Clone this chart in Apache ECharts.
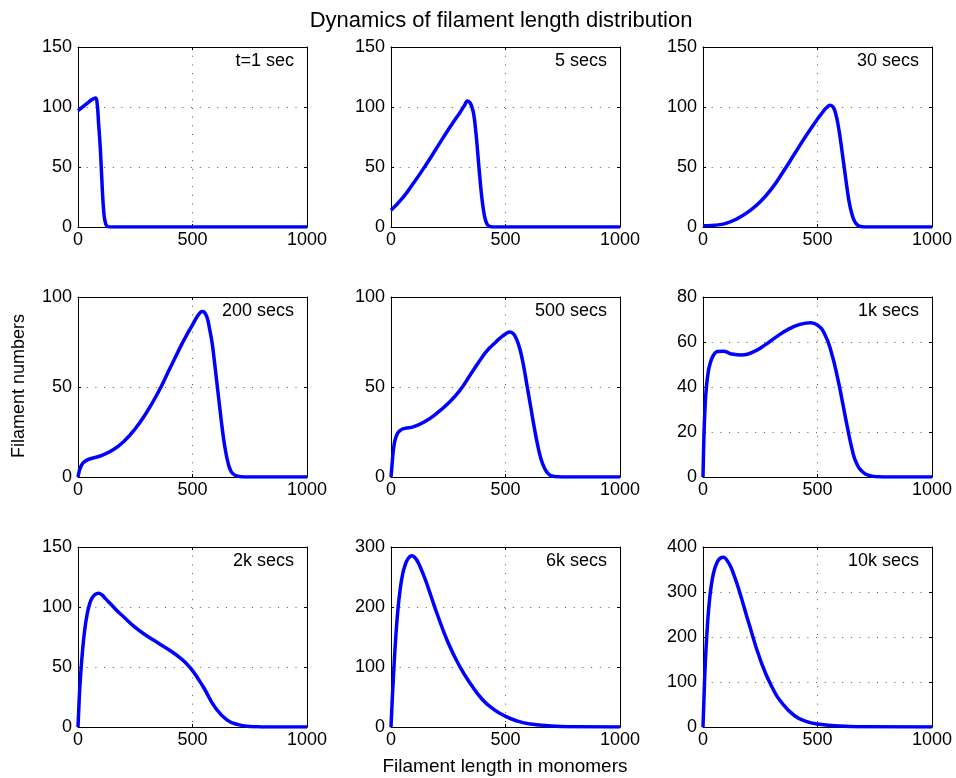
<!DOCTYPE html>
<html>
<head>
<meta charset="utf-8">
<script src="https://cdn.jsdelivr.net/npm/echarts@6/dist/echarts.min.js"></script>
<style>
  html, body { margin: 0; padding: 0; background: #fff; }
  #chart { width: 956px; height: 778px; }
</style>
</head>
<body>
<div id="chart"></div>
<script>
// Filament length distribution at successive times: [length in monomers, filament count]
const dist1s = [[0,97],[20,100],[40,103],[60,106],[76,107.5],[83,104],[90,86],[97,67],[103,44],[109,22],[115,8],[120,3.5],[124,1.4],[134,0.1],[145,0],[1000,0]];
const dist5s = [[0,14],[50,24],[100,37],[150,51],[200,66],[250,81],[280,89.5],[300,95],[320,101],[335,105],[345,103.5],[355,99],[362,93],[369,82],[376,68],[383,52],[390,37],[397,24],[404,14],[411,7],[418,3],[426,1],[436,0.2],[450,0],[1000,0]];
const dist30s = [[0,1],[50,1.5],[100,3],[150,7],[200,13],[250,21],[300,32],[350,46],[400,61],[450,76],[500,90],[520,95],[540,99.5],[555,101.5],[568,100],[580,94],[590,85],[600,73],[610,59],[620,45],[630,31],[640,19],[650,11],[660,5.5],[670,2.5],[680,1],[695,0.2],[720,0],[1000,0]];
const dist200s = [[0,0],[5,3],[10,5],[20,7.5],[30,8.7],[50,10],[100,11.8],[150,14.8],[200,19.7],[250,26.8],[300,36],[350,47],[400,60],[425,66.5],[450,73],[475,79],[500,84.5],[520,89],[535,91.5],[545,92],[555,91],[565,88],[575,82],[585,75],[595,65],[605,54],[615,43],[625,32],[635,22],[645,14],[655,8],[665,4],[675,2],[690,0.7],[710,0.2],[740,0],[1000,0]];
const dist500s = [[0,0],[4,6],[8,12],[13,17.5],[20,21.5],[30,24.5],[45,26.3],[60,27],[100,28],[150,31],[200,35.4],[250,41],[300,48],[350,57.5],[400,67],[425,71],[450,74],[475,77],[500,79.5],[520,80.6],[535,79.5],[550,76],[565,70],[580,61],[595,50],[610,39],[625,28],[640,18],[655,10],[670,5],[685,2],[700,0.7],[730,0.1],[760,0],[1000,0]];
const dist1ks = [[0,0],[3,14],[6,24],[10,33],[15,40],[22,46],[30,50],[45,54],[65,55.8],[90,55.9],[120,54.8],[170,54.2],[220,55.6],[270,58.6],[320,62.3],[370,65.5],[420,67.7],[470,68.6],[500,67.5],[530,63.8],[560,55.6],[590,43],[610,32.8],[630,22.4],[650,12.8],[670,6.2],[700,2],[730,0.6],[770,0.1],[800,0],[1000,0]];
const dist2ks = [[0,0],[5,22],[10,39],[20,64],[30,82],[40,94],[50,102],[60,107],[75,110.5],[90,111.5],[105,110],[120,107],[135,104],[150,101],[175,96],[200,91.7],[250,83],[300,76],[350,70],[400,64],[450,57],[475,52.5],[500,47],[525,40],[550,32.5],[600,16],[650,6],[700,2],[750,0.5],[800,0.1],[850,0],[1000,0]];
const dist6ks = [[0,0],[5,42],[10,79],[20,145],[30,195],[40,229],[50,253],[60,268],[75,281],[90,285.5],[105,282],[120,273],[135,260],[150,245.6],[175,218],[200,190],[250,140],[300,101],[350,70.5],[400,45.5],[450,29],[500,17.8],[550,10],[600,5.5],[700,1.7],[800,0.5],[1000,0.1]];
const dist10ks = [[0,0],[5,75],[10,142],[20,231],[30,290],[40,327],[50,350],[60,364],[75,375],[90,377],[105,370],[120,357],[135,338],[150,316],[175,274],[200,231],[250,150],[300,90],[350,50],[400,25],[450,12.6],[500,6.7],[600,2],[700,0.7],[1000,0]];

const panelData = [dist1s, dist5s, dist30s, dist200s, dist500s, dist1ks, dist2ks, dist6ks, dist10ks];
const panelLabels = ['t=1 sec', '5 secs', '30 secs', '200 secs', '500 secs', '1k secs', '2k secs', '6k secs', '10k secs'];
const yMax = [150, 150, 150, 100, 100, 80, 150, 300, 400];
const yStep = [50, 50, 50, 50, 50, 20, 50, 100, 100];
const xMin = 0, xMax = 1000, xStep = 500;

const titleText = 'Dynamics of filament length distribution';
const xName = 'Filament length in monomers';
const yName = 'Filament numbers';

// Layout of the 3x3 panel grid (pixels)
const FONT = '"Liberation Sans", Arial, Helvetica, sans-serif';
const colLeft = [78, 391, 703];
const rowTop = [47, 297, 547];
const boxW = 229, boxH = 180;
const W = 956;

const grids = [], xAxes = [], yAxes = [], series = [], titles = [];
const gridDots = { color: '#555', width: 1, type: [1, 7.7] };
const tick = { show: true, inside: true, length: 3, lineStyle: { color: '#000', width: 1 } };
const axisLine = { show: true, onZero: false, lineStyle: { color: '#000', width: 1 } };
const tickLabel = { color: '#000', fontSize: 18, fontFamily: FONT, formatter: v => String(v) };

panelData.forEach((pts, i) => {
  const r = Math.floor(i / 3), c = i % 3;
  grids.push({ left: colLeft[c], top: rowTop[r], width: boxW, height: boxH, containLabel: false });
  // bottom / left axes carry labels and dotted grid lines; top / right mirror the ticks
  xAxes.push({
    gridIndex: i, type: 'value', min: xMin, max: xMax, interval: xStep, position: 'bottom',
    axisLine, axisTick: tick,
    axisLabel: Object.assign({ margin: 4 }, tickLabel),
    splitLine: { show: true, lineStyle: gridDots }
  });
  xAxes.push({
    gridIndex: i, type: 'value', min: xMin, max: xMax, interval: xStep, position: 'top',
    axisLine, axisTick: tick, axisLabel: { show: false }, splitLine: { show: false }
  });
  yAxes.push({
    gridIndex: i, type: 'value', min: 0, max: yMax[i], interval: yStep[i], position: 'left',
    axisLine, axisTick: tick,
    axisLabel: Object.assign({ margin: 6 }, tickLabel),
    splitLine: { show: true, lineStyle: gridDots }
  });
  yAxes.push({
    gridIndex: i, type: 'value', min: 0, max: yMax[i], interval: yStep[i], position: 'right',
    axisLine, axisTick: tick, axisLabel: { show: false }, splitLine: { show: false }
  });
  series.push({
    type: 'line', xAxisIndex: 2 * i, yAxisIndex: 2 * i, data: pts,
    showSymbol: false, smooth: 0.5, clip: true,
    lineStyle: { color: '#0000ff', width: 3.5 }, silent: true, animation: false
  });
  titles.push({
    text: panelLabels[i],
    right: W - (colLeft[c] + boxW) + 13,
    top: rowTop[r] + 5,
    padding: 0,
    textStyle: { color: '#000', fontSize: 18, fontWeight: 'normal', fontFamily: FONT }
  });
});

const chart = echarts.init(document.getElementById('chart'), null, { renderer: 'canvas' });
chart.setOption({
  backgroundColor: '#fff',
  animation: false,
  title: titles,
  grid: grids,
  xAxis: xAxes,
  yAxis: yAxes,
  series,
  graphic: [
    { type: 'text', x: 501, y: 21, style: { text: titleText, textAlign: 'center', textVerticalAlign: 'middle', font: '22px ' + FONT, fill: '#000' } },
    { type: 'text', x: 505, y: 767, style: { text: xName, textAlign: 'center', textVerticalAlign: 'middle', font: '19px ' + FONT, fill: '#000' } },
    { type: 'text', x: 19, y: 386, rotation: Math.PI / 2, style: { text: yName, textAlign: 'center', textVerticalAlign: 'middle', font: '18px ' + FONT, fill: '#000' } }
  ]
});
</script>
</body>
</html>
